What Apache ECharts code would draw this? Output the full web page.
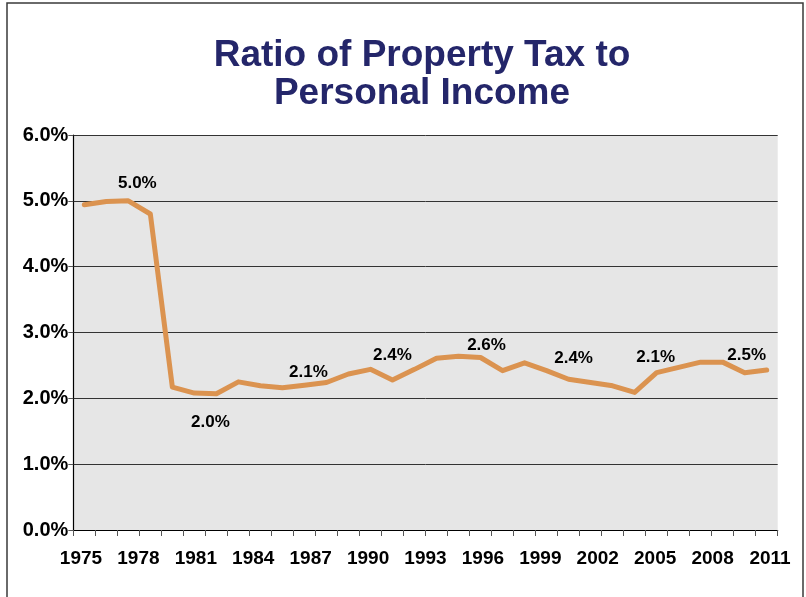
<!DOCTYPE html>
<html>
<head>
<meta charset="utf-8">
<script src="https://cdn.jsdelivr.net/npm/echarts@6/dist/echarts.min.js"></script>
<style>
html,body{margin:0;padding:0;background:#fff;}
#chart{width:806px;height:597px;}
</style>
</head>
<body>
<div id="chart"></div>
<script>
// ---- data ----
const titleText = 'Ratio of Property Tax to\nPersonal Income';
const periods = ['P1','P2','P3','P4','P5','P6','P7','P8','P9','P10','P11','P12','P13','P14','P15','P16',
                 'P17','P18','P19','P20','P21','P22','P23','P24','P25','P26','P27','P28','P29','P30','P31','P32'];
const ratio = [4.94, 4.99, 5.00, 4.80, 2.17, 2.08, 2.07, 2.25, 2.19, 2.16, 2.20, 2.24, 2.37, 2.44, 2.28, 2.44,
               2.61, 2.64, 2.62, 2.42, 2.54, 2.42, 2.29, 2.24, 2.19, 2.09, 2.39, 2.47, 2.55, 2.55, 2.39, 2.43];
const yearTicks = [1975, 1978, 1981, 1984, 1987, 1990, 1993, 1996, 1999, 2002, 2005, 2008, 2011];
const yTicks = [0, 1, 2, 3, 4, 5, 6];
const annotIndex = [2, 6, 10, 14, 18, 22, 26, 30];
const annotText = ['5.0%', '2.0%', '2.1%', '2.4%', '2.6%', '2.4%', '2.1%', '2.5%'];

// ---- presentation ----
const annotOffsets = [[9,-18],[-6,29],[4,-13],[0,-25],[6,-12],[5,-21],[-1,-15],[2,-17]];
const FONT = "'Liberation Sans', Arial, sans-serif";

const chart = echarts.init(document.getElementById('chart'), null, {renderer: 'canvas'});
const option = {
  backgroundColor: '#ffffff',
  animation: false,
  title: {
    text: titleText,
    left: 417,
    top: 32,
    textAlign: 'center',
    textStyle: {
      fontFamily: FONT,
      fontWeight: 'bold',
      fontSize: 37,
      lineHeight: 38,
      color: '#24266a'
    }
  },
  graphic: [{
    type: 'rect',
    shape: {x: 7, y: 3, width: 796, height: 640},
    style: {fill: 'none', stroke: '#3a3a3a', lineWidth: 1.5},
    silent: true, z: 100
  }],
  grid: {
    left: 73.3, right: 28.3, top: 135, bottom: 67,
    show: true, backgroundColor: '#e6e6e6', borderWidth: 0
  },
  xAxis: [{
    type: 'category',
    data: periods,
    boundaryGap: true,
    axisLine: {show: true, lineStyle: {color: '#000', width: 1.2}},
    axisTick: {show: true, interval: 0, length: 6, lineStyle: {color: '#555', width: 1}},
    axisLabel: {show: false},
    splitLine: {show: false}
  }, {
    type: 'value',
    position: 'bottom',
    min: 1974.598,
    max: 2011.402,
    axisLine: {show: false},
    axisTick: {show: false},
    splitLine: {show: false},
    axisLabel: {
      customValues: yearTicks,
      formatter: v => String(Math.round(v)),
      fontFamily: FONT, fontWeight: 'bold', fontSize: 19, color: '#000',
      margin: 19
    }
  }],
  yAxis: {
    type: 'value',
    min: yTicks[0],
    max: yTicks[yTicks.length - 1],
    interval: 1,
    axisLine: {show: true, lineStyle: {color: '#000', width: 1.2}},
    axisTick: {show: true, length: 5, lineStyle: {color: '#555'}},
    splitLine: {show: true, lineStyle: {color: '#333', width: 1}},
    axisLabel: {
      formatter: v => v.toFixed(1) + '%',
      fontFamily: FONT, fontWeight: 'bold', fontSize: 20, color: '#000',
      margin: 5
    }
  },
  series: [{
    type: 'line',
    data: ratio,
    xAxisIndex: 0,
    showSymbol: false,
    symbol: 'none',
    lineStyle: {color: '#db9350', width: 5, join: 'round', cap: 'round'},
    z: 3
  }, {
    type: 'scatter',
    xAxisIndex: 0,
    symbolSize: 0,
    itemStyle: {opacity: 1},
    data: annotIndex.map((i, k) => ({
      value: [i, ratio[i]],
      label: {
        show: true,
        position: 'inside',
        formatter: annotText[k],
        offset: annotOffsets[k]
      }
    })),
    label: {
      fontFamily: FONT, fontWeight: 'bold', fontSize: 17, color: '#000', opacity: 1
    },
    z: 5
  }]
};
chart.setOption(option);
</script>
</body>
</html>
